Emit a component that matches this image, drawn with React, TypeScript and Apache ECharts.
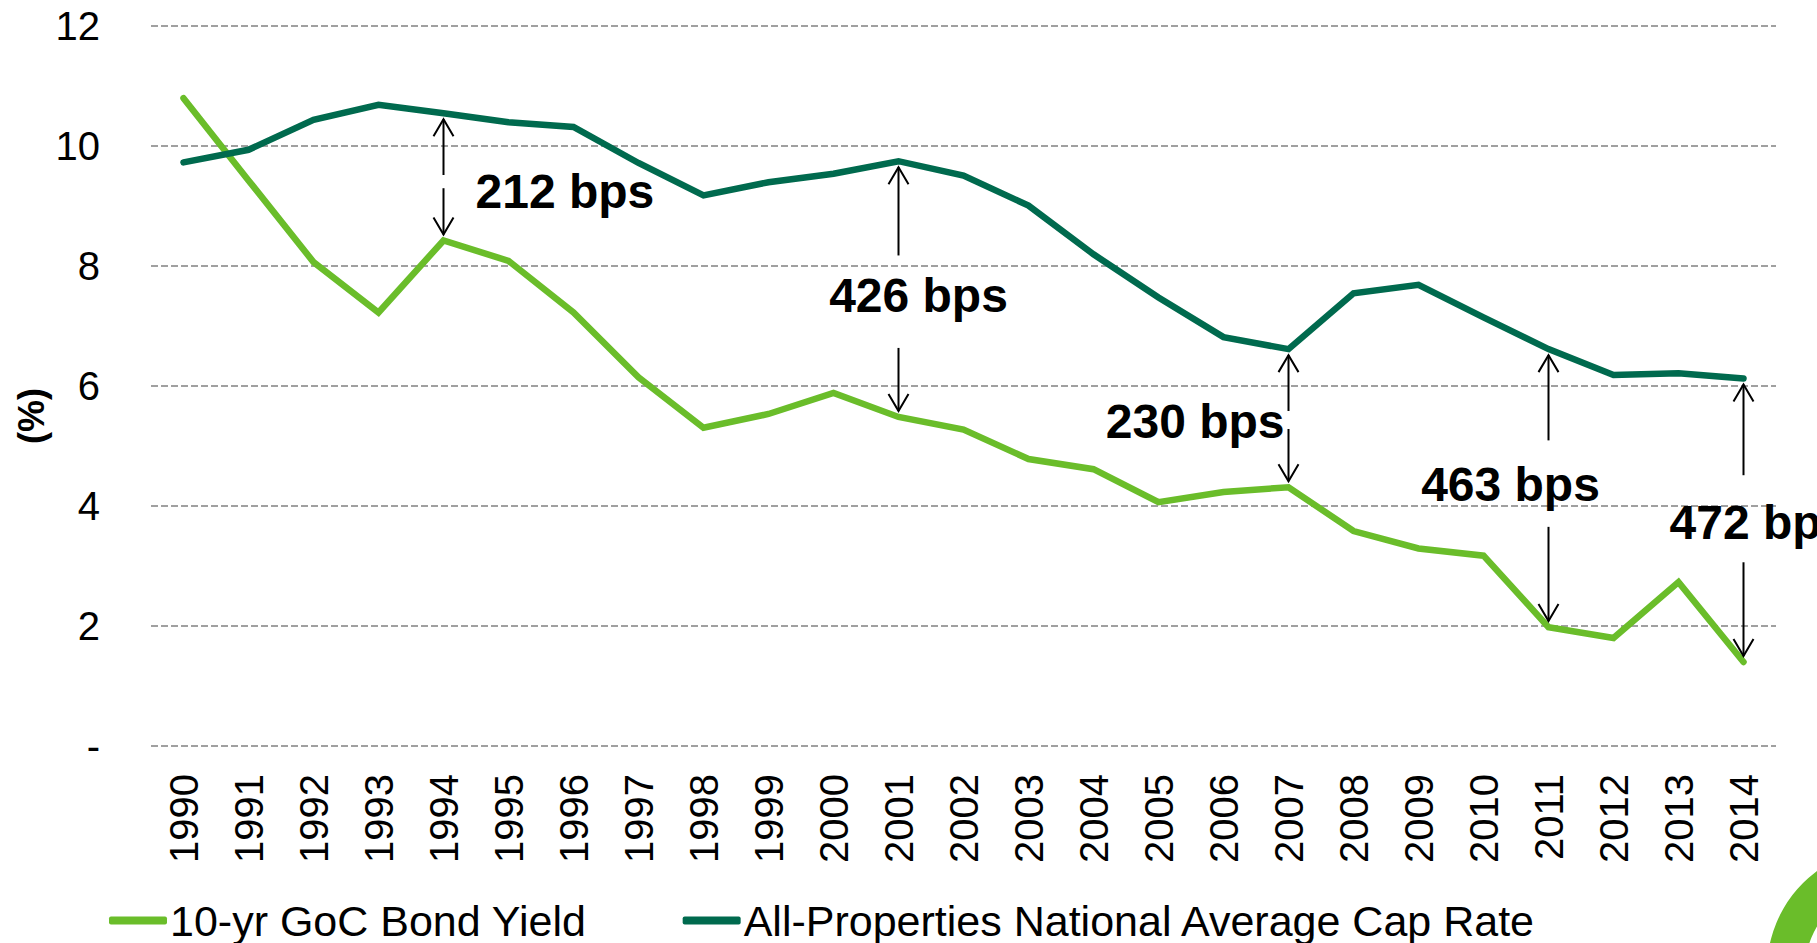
import React, { useEffect, useRef } from "react";
import * as echarts from "echarts";

const years = [
  "1990", "1991", "1992", "1993", "1994", "1995", "1996", "1997", "1998", "1999",
  "2000", "2001", "2002", "2003", "2004", "2005", "2006", "2007", "2008", "2009",
  "2010", "2011", "2012", "2013", "2014",
];

const bondYield = [
  10.79, 9.42, 8.06, 7.22, 8.42, 8.08, 7.22, 6.14, 5.3, 5.53,
  5.88, 5.48, 5.27, 4.78, 4.61, 4.06, 4.23, 4.31, 3.58, 3.29,
  3.17, 1.98, 1.8, 2.73, 1.4,
];

const capRate = [
  9.72, 9.93, 10.43, 10.68, 10.54, 10.39, 10.31, 9.71, 9.17, 9.39,
  9.53, 9.74, 9.5, 9.0, 8.19, 7.47, 6.81, 6.61, 7.54, 7.68,
  7.14, 6.61, 6.18, 6.21, 6.12,
];

const yTickValues = [0, 2, 4, 6, 8, 10, 12];
const yTickLabels = ["-", "2", "4", "6", "8", "10", "12"];

const seriesNames = ["10-yr GoC Bond Yield", "All-Properties National Average Cap Rate"];

const spreadYears = ["1994", "2001", "2007", "2011", "2014"];
const spreadLabels = ["212 bps", "426 bps", "230 bps", "463 bps", "472 bps"];

// layout of the annotations (text position in axis units, gap in the arrow)
const spreadLayout = [
  { dx: 32, align: "left", textValue: 9.24, gapHi: 9.51, gapLo: 9.29 },
  { dx: 20, align: "center", textValue: 7.51, gapHi: 8.17, gapLo: 6.63 },
  { dx: -4, align: "right", textValue: 5.41, gapHi: 5.58, gapLo: 5.28 },
  { dx: -38, align: "center", textValue: 4.36, gapHi: 5.09, gapLo: 3.65 },
  { dx: -74, align: "left", textValue: 3.73, gapHi: 4.51, gapLo: 3.06 },
];

const LIGHT = "#6abd2a";
const DARK = "#006a4e";
const FONT = "'Liberation Sans', Arial, sans-serif";

export default function App() {
  const ref = useRef<HTMLDivElement>(null);

  useEffect(() => {
    document.body.style.margin = "0";
    document.body.style.overflow = "hidden";
    const chart = echarts.init(ref.current!, null, { renderer: "svg" });
    const option: any = {
      animation: false,
      backgroundColor: "#ffffff",
      textStyle: { fontFamily: FONT },
      grid: { left: 151, right: 41, top: 25.5, bottom: 197, containLabel: false },
      legend: {
        left: 104,
        top: 894,
        itemWidth: 58,
        itemHeight: 8,
        itemGap: 96,
        icon: "roundRect",
        textStyle: { fontSize: 43, color: "#000", fontFamily: FONT, padding: [0, 0, 0, -2] },
        data: seriesNames,
      },
      xAxis: {
        type: "category",
        data: years,
        boundaryGap: true,
        axisLine: { show: false },
        axisTick: { show: false },
        axisLabel: { rotate: 90, fontSize: 40, color: "#000", margin: 28, fontFamily: FONT, interval: 0 },
      },
      yAxis: {
        type: "value",
        min: 0,
        max: 12,
        interval: 2,
        axisLine: { show: false },
        axisTick: { show: false },
        axisLabel: {
          fontSize: 40,
          color: "#000",
          margin: 51,
          fontFamily: FONT,
          formatter: (v: number) => {
            const i = yTickValues.indexOf(v);
            return i >= 0 ? yTickLabels[i] : String(v);
          },
        },
        splitLine: { lineStyle: { color: "#a0a0a0", width: 2, type: [7, 3] } },
      },
      series: [
        {
          name: seriesNames[0],
          type: "line",
          data: bondYield,
          showSymbol: false,
          symbol: "none",
          color: LIGHT,
          lineStyle: { width: 6.5, color: LIGHT, cap: "round", join: "miter" },
        },
        {
          name: seriesNames[1],
          type: "line",
          data: capRate,
          showSymbol: false,
          symbol: "none",
          color: DARK,
          lineStyle: { width: 6.5, color: DARK, cap: "round", join: "miter" },
        },
      ],
    };
    chart.setOption(option);

    const elements: any[] = [];
    const arrowStyle = { stroke: "#000", lineWidth: 2, fill: null };
    const hw = 10;
    const hl = 17;
    const tip = 6;
    spreadYears.forEach((yr, k) => {
      const idx = years.indexOf(yr);
      const lay = spreadLayout[k];
      const px = (v: number) => chart.convertToPixel({ gridIndex: 0 }, [idx, v]) as number[];
      const [x, yCap] = px(capRate[idx]);
      const yBond = px(bondYield[idx])[1];
      const yHi = px(lay.gapHi)[1];
      const yLo = px(lay.gapLo)[1];
      const yText = px(lay.textValue)[1];
      const upTip = yCap + tip;
      const downTip = yBond - tip;
      elements.push(
        { type: "line", shape: { x1: x, y1: yHi, x2: x, y2: upTip }, style: arrowStyle, z: 10 },
        {
          type: "polyline",
          shape: { points: [[x - hw, upTip + hl], [x, upTip], [x + hw, upTip + hl]] },
          style: arrowStyle,
          z: 10,
        },
        { type: "line", shape: { x1: x, y1: yLo, x2: x, y2: downTip }, style: arrowStyle, z: 10 },
        {
          type: "polyline",
          shape: { points: [[x - hw, downTip - hl], [x, downTip], [x + hw, downTip - hl]] },
          style: arrowStyle,
          z: 10,
        },
        {
          type: "text",
          x: x + lay.dx,
          y: yText,
          z: 11,
          style: {
            text: spreadLabels[k],
            fontSize: 48,
            fontWeight: "bold",
            fontFamily: FONT,
            fill: "#000",
            align: lay.align,
            verticalAlign: "middle",
          },
        }
      );
    });

    elements.push({
      type: "text",
      x: 31,
      y: 416,
      rotation: Math.PI / 2,
      style: {
        text: "(%)",
        fontSize: 36,
        fontWeight: "bold",
        fontFamily: FONT,
        fill: "#000",
        align: "center",
        verticalAlign: "middle",
      },
    });

    elements.push({
      type: "ring",
      shape: { cx: 1890, cy: 970, r: 123, r0: 85 },
      style: { fill: LIGHT },
    });

    chart.setOption({ graphic: elements });

    return () => chart.dispose();
  }, []);

  return (
    <div
      ref={ref}
      style={{ position: "fixed", left: 0, top: 0, width: 1817, height: 943 }}
    />
  );
}
